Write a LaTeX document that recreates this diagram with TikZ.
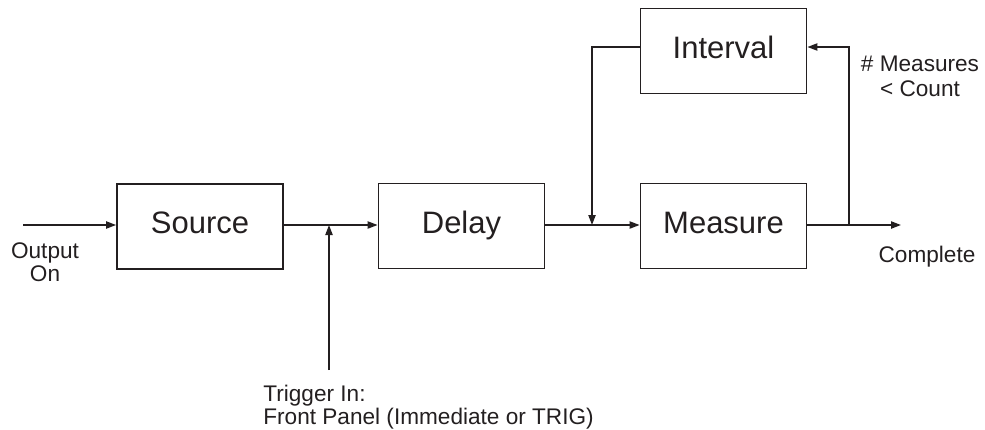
\documentclass[tikz,border=0pt]{standalone}
\usepackage{fontspec}
\setmainfont{Liberation Sans}
\usetikzlibrary{arrows.meta}
\definecolor{inkgray}{RGB}{35,31,32}
\tikzset{
  blockbox/.style = {draw,line width=0.9pt,minimum width=83pt,minimum height=42.5pt,
                     inner sep=0pt,text height=11pt,text depth=4pt,
                     font=\fontsize{15.5}{18}\selectfont},
  flowarr/.style  = {-{Triangle[length=5pt,width=3.6pt]},line width=0.8pt},
  flowline/.style = {line width=0.8pt},
  smalltext/.style = {font=\fontsize{11.3}{10}\selectfont,inner sep=0pt}
}
\begin{document}
\begin{tikzpicture}[x=0.5pt,y=-0.5pt,color=inkgray]
  \useasboundingbox (0,0) rectangle (985,429);
  % the four blocks
  \node[blockbox] (source)   at (200,226.5) {Source};
  \node[blockbox] (delay)    at (461.5,226) {Delay};
  \node[blockbox] (measure)  at (723.5,226) {Measure};
  \node[blockbox] (interval) at (723.5,51)  {Interval};
  % branch points and free ends
  \coordinate (inlet)  at (23,225);
  \coordinate (trig)   at (329,225);
  \coordinate (trigin) at (329,370);
  \coordinate (merge)  at (592,225);
  \coordinate (split)  at (849,225);
  \coordinate (outlet) at (901,225);
  % main path
  \draw[flowarr]  (inlet) -- (inlet -| source.west);
  \draw[flowline] (trig -| source.east) -- (trig);
  \draw[flowarr]  (trig) -- (trig -| delay.west);
  \draw[flowline] (merge -| delay.east) -- (merge);
  \draw[flowarr]  (merge) -- (merge -| measure.west);
  \draw[flowline] (split -| measure.east) -- (split);
  \draw[flowarr]  (split) -- (outlet);
  % trigger input and the loop through the interval
  \draw[flowarr]  (trigin) -- (trig);
  \draw[flowarr]  ([yshift=2pt]interval.west) -| (merge);
  \draw[flowarr]  (split) |- ([yshift=2pt]interval.east);
  % labels
  \node[smalltext,align=center] (outlbl)  at (45,262)  {Output\\On};
  \node[smalltext] (donelbl) at (927,257) {Complete};
  \node[smalltext,align=center,font=\fontsize{11.3}{12.5}\selectfont] (countlbl) at (920,76)
    {\# Measures\\\textless{} Count};
  \node[smalltext,align=left,anchor=north west,font=\fontsize{11.3}{9.3}\selectfont] (triglbl) at (263,385)
    {Trigger In:\\Front Panel (Immediate or TRIG)};
\end{tikzpicture}
\end{document}
